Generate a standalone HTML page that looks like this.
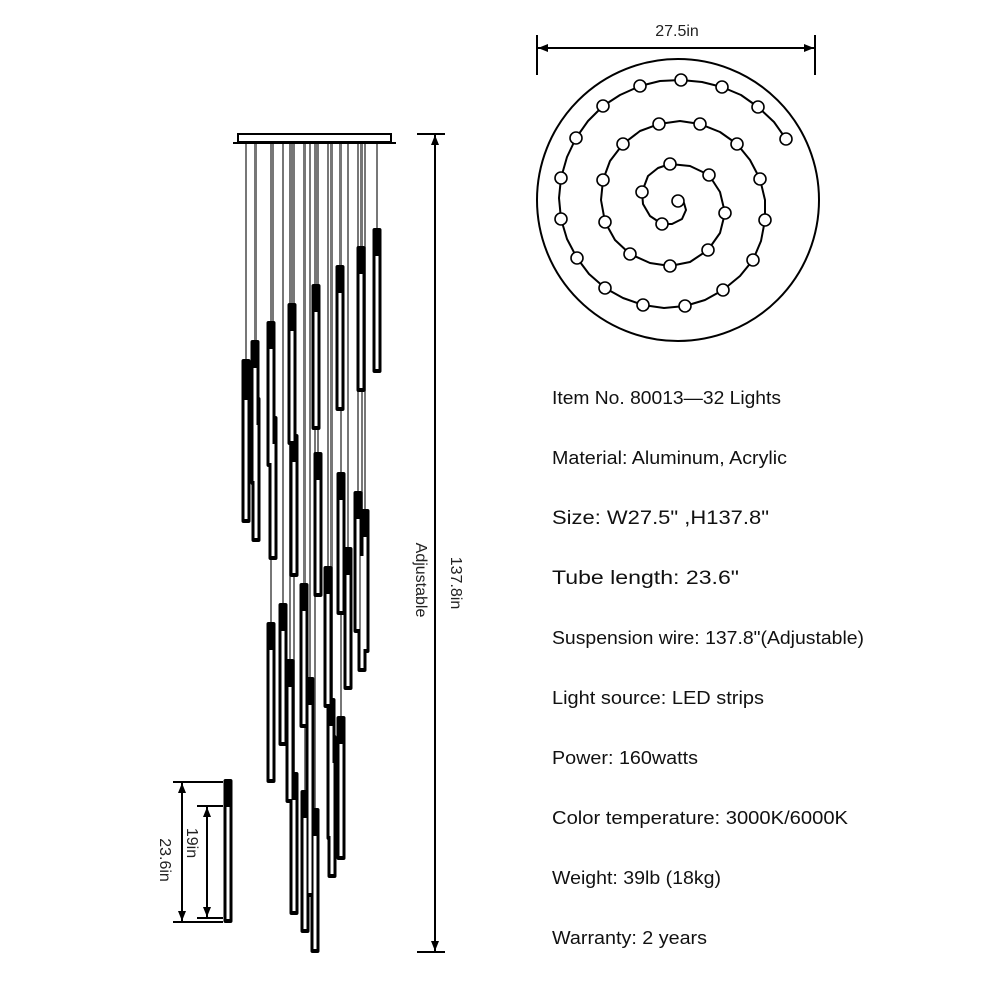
<!DOCTYPE html>
<html><head><meta charset="utf-8"><style>
html,body{margin:0;padding:0;background:#fff;}
svg{display:block;font-family:"Liberation Sans",sans-serif;}
</style></head><body>
<svg width="1000" height="1000" viewBox="0 0 1000 1000" xmlns="http://www.w3.org/2000/svg">
<defs>
<marker id="ah" markerWidth="10" markerHeight="8" refX="10" refY="4" orient="auto-start-reverse" markerUnits="userSpaceOnUse" viewBox="0 0 10 8">
<path d="M0,0 L10,4 L0,8 Z" fill="#000"/></marker>
</defs>
<g stroke="#777" stroke-width="2">
<line x1="377" y1="143" x2="377" y2="228"/><line x1="361" y1="143" x2="361" y2="246"/>
<line x1="340" y1="143" x2="340" y2="265"/><line x1="316" y1="143" x2="316" y2="284"/>
<line x1="292" y1="143" x2="292" y2="303"/><line x1="271" y1="143" x2="271" y2="321"/>
<line x1="255" y1="143" x2="255" y2="340"/><line x1="246" y1="143" x2="246" y2="359"/>
<line x1="256" y1="143" x2="256" y2="397"/><line x1="273" y1="143" x2="273" y2="416"/>
<line x1="294" y1="143" x2="294" y2="434"/><line x1="318" y1="143" x2="318" y2="452"/>
<line x1="341" y1="143" x2="341" y2="472"/><line x1="358" y1="143" x2="358" y2="491"/>
<line x1="365" y1="143" x2="365" y2="509"/><line x1="362" y1="143" x2="362" y2="528"/>
<line x1="348" y1="143" x2="348" y2="547"/><line x1="328" y1="143" x2="328" y2="566"/>
<line x1="304" y1="143" x2="304" y2="583"/><line x1="283" y1="143" x2="283" y2="603"/>
<line x1="271" y1="143" x2="271" y2="622"/><line x1="290" y1="143" x2="290" y2="659"/>
<line x1="310" y1="143" x2="310" y2="677"/><line x1="331" y1="143" x2="331" y2="698"/>
<line x1="341" y1="143" x2="341" y2="716"/><line x1="332" y1="143" x2="332" y2="735"/>
<line x1="310" y1="143" x2="310" y2="752"/><line x1="294" y1="143" x2="294" y2="772"/>
<line x1="305" y1="143" x2="305" y2="790"/><line x1="315" y1="143" x2="315" y2="808"/>
</g>
<rect x="238" y="134" width="153" height="8" fill="#fff" stroke="#000" stroke-width="2"/>
<line x1="233" y1="143" x2="396" y2="143" stroke="#000" stroke-width="2"/>
<g>
<g fill="#000">
<rect x="372.5" y="228" width="9" height="145" rx="2"/><rect x="356.5" y="246" width="9" height="146" rx="2"/>
<rect x="335.5" y="265" width="9" height="146" rx="2"/><rect x="311.5" y="284" width="9" height="146" rx="2"/>
<rect x="287.5" y="303" width="9" height="142" rx="2"/><rect x="266.5" y="321" width="9" height="146" rx="2"/>
<rect x="250.5" y="340" width="9" height="145" rx="2"/><rect x="241.5" y="359" width="9" height="164" rx="2"/>
<rect x="251.5" y="397" width="9" height="145" rx="2"/><rect x="268.5" y="416" width="9" height="144" rx="2"/>
<rect x="289.5" y="434" width="9" height="143" rx="2"/><rect x="313.5" y="452" width="9" height="145" rx="2"/>
<rect x="336.5" y="472" width="9" height="143" rx="2"/><rect x="353.5" y="491" width="9" height="142" rx="2"/>
<rect x="360.5" y="509" width="9" height="144" rx="2"/><rect x="357.5" y="528" width="9" height="144" rx="2"/>
<rect x="343.5" y="547" width="9" height="143" rx="2"/><rect x="323.5" y="566" width="9" height="142" rx="2"/>
<rect x="299.5" y="583" width="9" height="145" rx="2"/><rect x="278.5" y="603" width="9" height="143" rx="2"/>
<rect x="266.5" y="622" width="9" height="161" rx="2"/><rect x="285.5" y="659" width="9" height="144" rx="2"/>
<rect x="305.5" y="677" width="9" height="143" rx="2"/><rect x="326.5" y="698" width="9" height="142" rx="2"/>
<rect x="336.5" y="716" width="9" height="144" rx="2"/><rect x="327.5" y="735" width="9" height="143" rx="2"/>
<rect x="305.5" y="752" width="9" height="145" rx="2"/><rect x="289.5" y="772" width="9" height="143" rx="2"/>
<rect x="300.5" y="790" width="9" height="143" rx="2"/><rect x="310.5" y="808" width="9" height="145" rx="2"/>
<rect x="223.5" y="779" width="9" height="144" rx="2"/>
</g>
<g fill="#fff">
<rect x="375.5" y="256" width="3" height="113"/><rect x="359.5" y="274" width="3" height="114"/>
<rect x="338.5" y="293" width="3" height="114"/><rect x="314.5" y="312" width="3" height="114"/>
<rect x="290.5" y="331" width="3" height="110"/><rect x="269.5" y="349" width="3" height="114"/>
<rect x="253.5" y="368" width="3" height="113"/><rect x="244.5" y="400" width="3" height="119"/>
<rect x="254.5" y="425" width="3" height="113"/><rect x="271.5" y="444" width="3" height="112"/>
<rect x="292.5" y="462" width="3" height="111"/><rect x="316.5" y="480" width="3" height="113"/>
<rect x="339.5" y="500" width="3" height="111"/><rect x="356.5" y="519" width="3" height="110"/>
<rect x="363.5" y="537" width="3" height="112"/><rect x="360.5" y="556" width="3" height="112"/>
<rect x="346.5" y="575" width="3" height="111"/><rect x="326.5" y="594" width="3" height="110"/>
<rect x="302.5" y="611" width="3" height="113"/><rect x="281.5" y="631" width="3" height="111"/>
<rect x="269.5" y="650" width="3" height="129"/><rect x="288.5" y="687" width="3" height="112"/>
<rect x="308.5" y="705" width="3" height="111"/><rect x="329.5" y="726" width="3" height="110"/>
<rect x="339.5" y="744" width="3" height="112"/><rect x="330.5" y="763" width="3" height="111"/>
<rect x="308.5" y="780" width="3" height="113"/><rect x="292.5" y="800" width="3" height="111"/>
<rect x="303.5" y="818" width="3" height="111"/><rect x="313.5" y="836" width="3" height="113"/>
<rect x="226.5" y="807" width="3" height="112"/>
</g>
</g>
<g stroke="#000" stroke-width="2">
<line x1="417" y1="134" x2="445" y2="134"/><line x1="417" y1="952" x2="445" y2="952"/>
<line x1="435" y1="135" x2="435" y2="951" marker-start="url(#ah)" marker-end="url(#ah)"/>
<line x1="173" y1="782" x2="223" y2="782"/><line x1="173" y1="922" x2="223" y2="922"/>
<line x1="197" y1="806" x2="223" y2="806"/><line x1="197" y1="918" x2="223" y2="918"/>
<line x1="182" y1="783" x2="182" y2="921" marker-start="url(#ah)" marker-end="url(#ah)"/>
<line x1="207" y1="807" x2="207" y2="917" marker-start="url(#ah)" marker-end="url(#ah)"/>
<line x1="537" y1="35" x2="537" y2="75"/><line x1="815" y1="35" x2="815" y2="75"/>
<line x1="538" y1="48" x2="814" y2="48" marker-start="url(#ah)" marker-end="url(#ah)"/>
</g>
<g font-size="16" fill="#222" text-anchor="middle">
<text transform="translate(416,580) rotate(90)">Adjustable</text>
<text transform="translate(451,583) rotate(90)">137.8in</text>
<text transform="translate(187,843) rotate(90)">19in</text>
<text transform="translate(160,860) rotate(90)">23.6in</text>
<text x="677" y="36">27.5in</text>
</g>
<circle cx="678" cy="200" r="141" fill="none" stroke="#000" stroke-width="2"/>
<polyline fill="none" stroke="#000" stroke-width="2" stroke-linejoin="round" points="678,201 684,203 686,210 682,219 672,224 662,224 650,216 643,204 642,192 648,176 658,168 670,164 690,166 709,175 720,192 725,213 720,233 708,250 690,262 670,266 650,263 630,254 615,240 605,222 601,200 603,180 610,161 623,144 640,131 659,124 680,121 700,124 720,132 737,144 750,160 760,179 765,200 765,220 761,241 753,260 740,276 723,290 705,300 685,306 664,308 643,305 623,298 605,288 589,274 577,258 567,239 561,219 559,198 561,178 567,157 576,138 588,121 603,106 620,95 640,86 660,81 681,80 702,82 722,87 741,95 758,107 774,122 786,139"/>
<g fill="#fff" stroke="#000" stroke-width="1.6">
<circle cx="678" cy="201" r="6"/><circle cx="662" cy="224" r="6"/><circle cx="642" cy="192" r="6"/>
<circle cx="670" cy="164" r="6"/><circle cx="709" cy="175" r="6"/><circle cx="725" cy="213" r="6"/>
<circle cx="708" cy="250" r="6"/><circle cx="670" cy="266" r="6"/><circle cx="630" cy="254" r="6"/>
<circle cx="605" cy="222" r="6"/><circle cx="603" cy="180" r="6"/><circle cx="623" cy="144" r="6"/>
<circle cx="659" cy="124" r="6"/><circle cx="700" cy="124" r="6"/><circle cx="737" cy="144" r="6"/>
<circle cx="760" cy="179" r="6"/><circle cx="765" cy="220" r="6"/><circle cx="753" cy="260" r="6"/>
<circle cx="723" cy="290" r="6"/><circle cx="685" cy="306" r="6"/><circle cx="643" cy="305" r="6"/>
<circle cx="605" cy="288" r="6"/><circle cx="577" cy="258" r="6"/><circle cx="561" cy="219" r="6"/>
<circle cx="561" cy="178" r="6"/><circle cx="576" cy="138" r="6"/><circle cx="603" cy="106" r="6"/>
<circle cx="640" cy="86" r="6"/><circle cx="681" cy="80" r="6"/><circle cx="722" cy="87" r="6"/>
<circle cx="758" cy="107" r="6"/><circle cx="786" cy="139" r="6"/>
</g>
<g font-size="18" fill="#111">
<text x="552" y="404" textLength="229" lengthAdjust="spacingAndGlyphs">Item No. 80013—32 Lights</text>
<text x="552" y="464" textLength="235" lengthAdjust="spacingAndGlyphs">Material: Aluminum, Acrylic</text>
<text x="552" y="524" font-size="19" textLength="217" lengthAdjust="spacingAndGlyphs">Size: W27.5" ,H137.8"</text>
<text x="552" y="584" font-size="19" textLength="187" lengthAdjust="spacingAndGlyphs">Tube length: 23.6"</text>
<text x="552" y="644" textLength="312" lengthAdjust="spacingAndGlyphs">Suspension wire: 137.8"(Adjustable)</text>
<text x="552" y="704" textLength="212" lengthAdjust="spacingAndGlyphs">Light source: LED strips</text>
<text x="552" y="764" textLength="146" lengthAdjust="spacingAndGlyphs">Power: 160watts</text>
<text x="552" y="824" textLength="296" lengthAdjust="spacingAndGlyphs">Color temperature: 3000K/6000K</text>
<text x="552" y="884" textLength="169" lengthAdjust="spacingAndGlyphs">Weight: 39lb (18kg)</text>
<text x="552" y="944" textLength="155" lengthAdjust="spacingAndGlyphs">Warranty: 2 years</text>
</g>
</svg>
</body></html>
